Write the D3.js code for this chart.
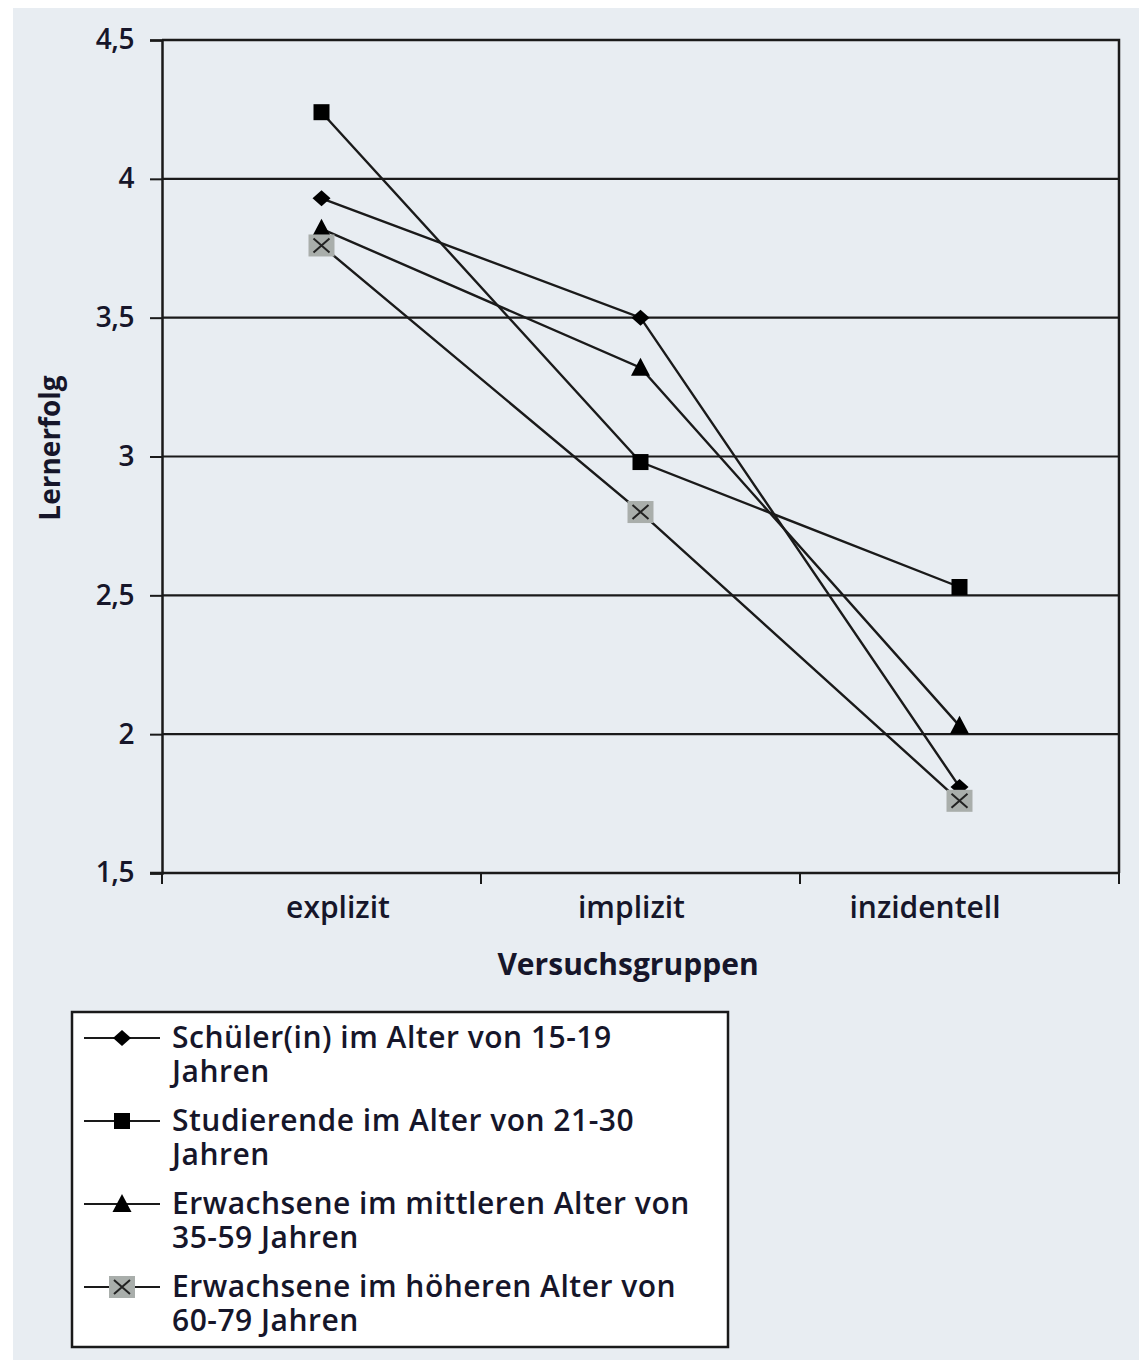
<!DOCTYPE html>
<html>
<head>
<meta charset="utf-8">
<script src="https://cdn.jsdelivr.net/npm/d3@7"></script>
<style>
  html, body { margin: 0; padding: 0; background: #ffffff; }
  svg { display: block; }
  text { font-family: "Open Sans", "Noto Sans", sans-serif; fill: #16162a; font-weight: 600; }
  text.title { font-weight: 700; }
</style>
</head>
<body>
<svg id="chart" width="1139" height="1360"></svg>
<script>
// Versuchsgruppen (x categories)
const categories = ["explizit", "implizit", "inzidentell"];

// Lernerfolg per age group
const schueler     = [3.93, 3.50, 1.81];
const studierende  = [4.24, 2.98, 2.53];
const mittleres    = [3.82, 3.32, 2.03];
const hoeheres     = [3.76, 2.80, 1.76];

const seriesNames = [
  ["Schüler(in) im Alter von 15-19", "Jahren"],
  ["Studierende im Alter von 21-30", "Jahren"],
  ["Erwachsene im mittleren Alter von", "35-59 Jahren"],
  ["Erwachsene im höheren Alter von", "60-79 Jahren"]
];
const seriesMarkers = ["diamond", "square", "triangle", "xbox"];
const seriesValues = [schueler, studierende, mittleres, hoeheres];

const yTicks = [1.5, 2, 2.5, 3, 3.5, 4, 4.5];
const yTickLabels = ["1,5", "2", "2,5", "3", "3,5", "4", "4,5"];

const xTitle = "Versuchsgruppen";
const yTitle = "Lernerfolg";

const series = seriesNames.map((n, i) => ({
  name: n, marker: seriesMarkers[i],
  values: categories.map((c, j) => ({ cat: c, v: seriesValues[i][j] }))
}));

const svg = d3.select("#chart");
const W = 1139, H = 1360;
const bg = "#e8edf2";

// page background panel
svg.append("rect").attr("x", 13).attr("y", 8).attr("width", W - 13).attr("height", H - 8).attr("fill", bg);

const plot = { left: 162, top: 40, right: 1119, bottom: 873 };

const x = d3.scaleBand().domain(categories).range([plot.left, plot.right]);
const y = d3.scaleLinear().domain([1.5, 4.5]).range([plot.bottom, plot.top]);
// category labels sit on a slightly tighter spacing than the bands
const xLabel = d3.scalePoint().domain(categories).range([338, 925]);

// gridlines
svg.append("g").selectAll("line").data(yTicks.filter(t => t > 1.5 && t < 4.5)).join("line")
  .attr("x1", plot.left).attr("x2", plot.right)
  .attr("y1", d => y(d)).attr("y2", d => y(d))
  .attr("stroke", "#1a1a1a").attr("stroke-width", 2.2);

// plot border (top, right)
svg.append("path")
  .attr("d", `M${plot.left},${plot.top}H${plot.right}V${plot.bottom}`)
  .attr("fill", "none").attr("stroke", "#1a1a1a").attr("stroke-width", 2.5);

// y axis
const yAxis = d3.axisLeft(y).tickValues(yTicks).tickSize(12).tickPadding(16)
  .tickFormat((d, i) => yTickLabels[i]);
const gy = svg.append("g").attr("transform", `translate(${plot.left},0)`).call(yAxis);
gy.select(".domain").attr("stroke", "#1a1a1a").attr("stroke-width", 2.5);
gy.selectAll(".tick line").attr("stroke", "#1a1a1a").attr("stroke-width", 2);
gy.selectAll(".tick text").attr("font-size", 28).attr("font-family", null).attr("fill", null)
  .attr("letter-spacing", -0.5);

// x axis with ticks at band boundaries
const gx = svg.append("g").attr("transform", `translate(0,${plot.bottom})`);
gx.append("line").attr("x1", plot.left - 12).attr("x2", plot.right)
  .attr("stroke", "#1a1a1a").attr("stroke-width", 2.5);
const bounds = categories.map(c => x(c)).concat([x(categories[categories.length - 1]) + x.bandwidth()]);
gx.selectAll("line.tk").data(bounds).join("line").attr("class", "tk")
  .attr("x1", d => d).attr("x2", d => d).attr("y1", 0).attr("y2", 11)
  .attr("stroke", "#1a1a1a").attr("stroke-width", 2);
gx.selectAll("text").data(categories).join("text")
  .attr("x", d => xLabel(d)).attr("y", 45)
  .attr("text-anchor", "middle").attr("font-size", 30).text(d => d);

// axis titles
svg.append("text").attr("class", "title").attr("x", 628).attr("y", 975)
  .attr("text-anchor", "middle").attr("font-size", 30).text(xTitle);
svg.append("text").attr("class", "title").attr("transform", `translate(60,448) rotate(-90)`)
  .attr("text-anchor", "middle").attr("font-size", 28).text(yTitle);

// marker shapes
function drawMarker(g, type) {
  if (type === "diamond") {
    g.append("path").attr("d", "M0,-8L9,0L0,8L-9,0Z").attr("fill", "#000");
  } else if (type === "square") {
    g.append("rect").attr("x", -8).attr("y", -8).attr("width", 16).attr("height", 16).attr("fill", "#000");
  } else if (type === "triangle") {
    g.append("path").attr("d", "M0,-10L9.5,8L-9.5,8Z").attr("fill", "#000");
  } else if (type === "xbox") {
    g.append("rect").attr("x", -13).attr("y", -11).attr("width", 26).attr("height", 22).attr("fill", "#a9aeab");
    g.append("path").attr("d", "M-8,-7L8,7M-8,7L8,-7").attr("stroke", "#222").attr("stroke-width", 2);
  }
}

const line = d3.line().x(d => x(d.cat) + x.bandwidth() / 2).y(d => y(d.v));
const gs = svg.append("g").selectAll("g").data(series).join("g");
gs.append("path").attr("d", d => line(d.values))
  .attr("fill", "none").attr("stroke", "#1a1a1a").attr("stroke-width", 2.4);
gs.each(function (s) {
  d3.select(this).selectAll("g.pt").data(s.values).join("g").attr("class", "pt")
    .attr("transform", d => `translate(${x(d.cat) + x.bandwidth() / 2},${y(d.v)})`)
    .each(function () { drawMarker(d3.select(this), s.marker); });
});

// legend
const lg = svg.append("g");
lg.append("rect").attr("x", 72).attr("y", 1012).attr("width", 656).attr("height", 335)
  .attr("fill", "#ffffff").attr("stroke", "#1a1a1a").attr("stroke-width", 2.5);
const rowY = d3.scalePoint().domain(d3.range(series.length)).range([1038, 1287]);
const items = lg.selectAll("g.item").data(series).join("g").attr("class", "item")
  .attr("transform", (d, i) => `translate(0,${rowY(i)})`);
items.append("line").attr("x1", 84).attr("x2", 160).attr("stroke", "#1a1a1a").attr("stroke-width", 2);
items.each(function (s) {
  const m = d3.select(this).append("g").attr("transform", "translate(122,0)");
  drawMarker(m, s.marker);
});
items.append("text").attr("x", 172).attr("y", 10).attr("font-size", 30)
  .attr("letter-spacing", 0.5).text(d => d.name[0]);
items.append("text").attr("x", 172).attr("y", 44).attr("font-size", 30)
  .attr("letter-spacing", 0.5).text(d => d.name[1]);
</script>
</body>
</html>
